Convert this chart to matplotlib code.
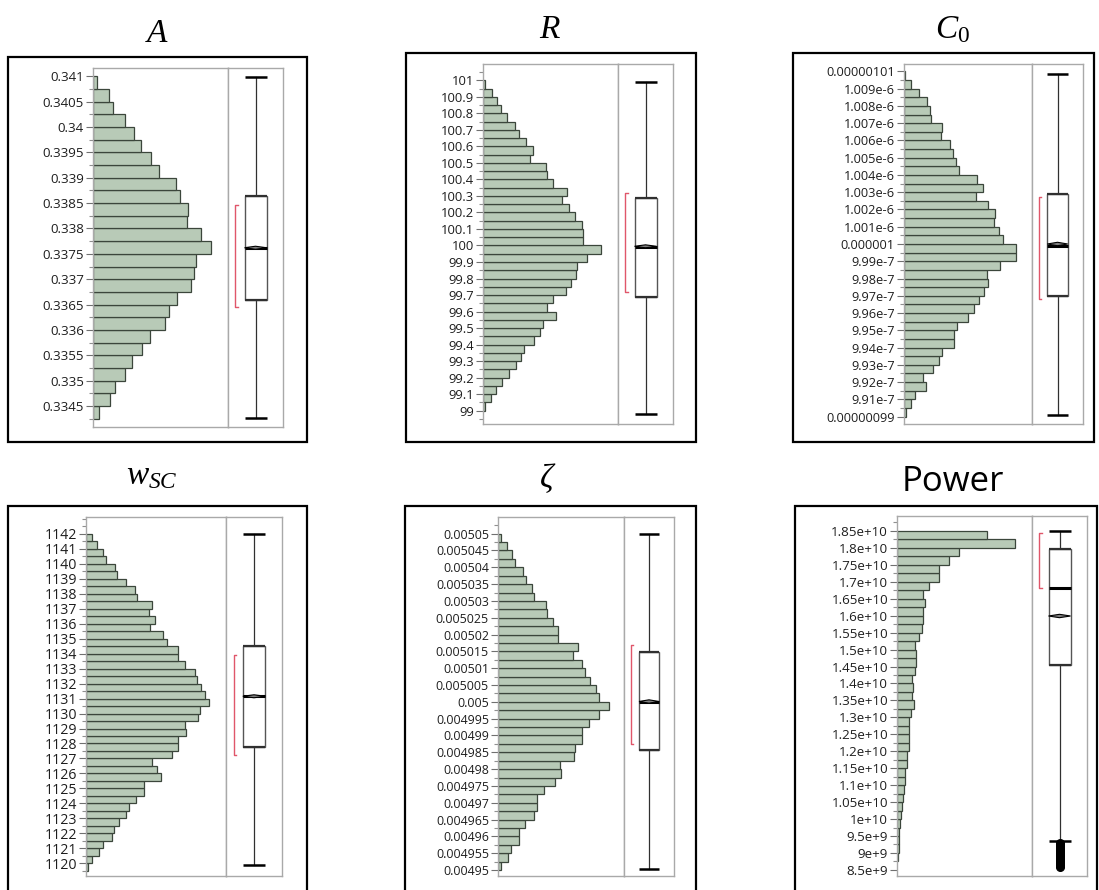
import matplotlib
matplotlib.use("Agg")
import matplotlib.pyplot as plt
import matplotlib.ticker as mticker
from matplotlib.patches import Rectangle, Polygon
import numpy as np

plt.rcParams['font.family'] = ['Open Sans', 'DejaVu Sans']
plt.rcParams['mathtext.fontset'] = 'custom'
plt.rcParams['mathtext.rm'] = 'Liberation Serif'
plt.rcParams['mathtext.it'] = 'Liberation Serif:italic'

W, H = 1099, 890

# ---- A ----
a_start, a_bin = 0.33425, 0.00025
a_counts = [17, 51, 65, 98, 119, 147, 172, 219, 230, 255, 297, 304, 311, 358,
            328, 283, 287, 262, 252, 200, 175, 144, 123, 98, 59, 48, 12]
a_ticks = ['0.3345', '0.335', '0.3355', '0.336', '0.3365', '0.337', '0.3375',
           '0.338', '0.3385', '0.339', '0.3395', '0.34', '0.3405', '0.341']
a_box = [0.33426, 0.33659, 0.33761, 0.33863, 0.34098]   # lo, q1, median, q3, hi
a_mean = 0.33762
a_shortest = [0.33645, 0.33847]

# ---- R ----
r_start, r_bin = 99.0, 0.05
r_counts = [7, 24, 38, 56, 77, 99, 113, 123, 153, 170, 180, 220, 192, 209, 249,
            263, 280, 283, 312, 355, 301, 301, 297, 277, 259, 237, 252, 209, 191,
            188, 141, 149, 128, 108, 96, 73, 53, 41, 27, 7]
r_ticks = ['99', '99.1', '99.2', '99.3', '99.4', '99.5', '99.6', '99.7', '99.8',
           '99.9', '100', '100.1', '100.2', '100.3', '100.4', '100.5', '100.6',
           '100.7', '100.8', '100.9', '101']
r_box = [98.98, 99.69, 99.99, 100.29, 100.99]
r_mean = 99.995
r_shortest = [99.718, 100.318]

# ---- C0 ----
c_start, c_bin = 0.99e-6, 0.5e-9
c_counts = [6, 21, 34, 66, 58, 85, 103, 112, 148, 148, 157, 191, 207, 224, 237,
            251, 248, 287, 334, 334, 294, 284, 267, 270, 251, 214, 234, 218, 164,
            156, 145, 136, 109, 112, 80, 76, 67, 46, 22, 4]
c_ticks = ['0.00000099', '9.91e-7', '9.92e-7', '9.93e-7', '9.94e-7', '9.95e-7',
           '9.96e-7', '9.97e-7', '9.98e-7', '9.99e-7', '0.000001', '1.001e-6',
           '1.002e-6', '1.003e-6', '1.004e-6', '1.005e-6', '1.006e-6', '1.007e-6',
           '1.008e-6', '1.009e-6', '0.00000101']
c_box = [0.99010e-6, 0.99701e-6, 0.99986e-6, 1.00291e-6, 1.00986e-6]
c_mean = 1.00000e-6
c_shortest = [0.99682e-6, 1.00271e-6]

# ---- w_SC ----
w_start, w_bin = 1119.5, 0.5
w_counts = [5, 18, 40, 50, 77, 84, 98, 121, 128, 150, 173, 173, 225, 213, 199,
            258, 275, 275, 301, 296, 335, 343, 368, 356, 346, 332, 328, 297, 275,
            275, 243, 230, 192, 206, 188, 199, 154, 148, 120, 92, 88, 61, 50, 33, 18]
w_ticks = [str(v) for v in range(1120, 1143)]
w_box = [1119.9, 1127.78, 1131.18, 1134.53, 1142.0]
w_mean = 1131.15
w_shortest = [1127.22, 1133.93]

# ---- zeta ----
z_start, z_bin = 0.00495, 2.5e-6
z_counts = [8, 30, 38, 62, 62, 80, 108, 118, 118, 139, 172, 188, 185, 229, 230,
            253, 253, 273, 301, 331, 301, 294, 275, 261, 253, 225, 241, 181, 181,
            165, 148, 143, 108, 103, 84, 74, 51, 41, 26, 8]
z_ticks = ['0.00495', '0.004955', '0.00496', '0.004965', '0.00497', '0.004975',
           '0.00498', '0.004985', '0.00499', '0.004995', '0.005', '0.005005',
           '0.00501', '0.005015', '0.00502', '0.005025', '0.00503', '0.005035',
           '0.00504', '0.005045', '0.00505']
z_box = [0.0049503, 0.0049858, 0.0050000, 0.0050149, 0.00505]
z_mean = 0.0050001
z_shortest = [0.0049874, 0.0050168]

# ---- Power ----
p_start, p_bin = 8.75e9, 0.25e9
p_counts = [4, 5, 6, 7, 9, 12, 15, 18, 20, 23, 24, 29, 30, 35, 37, 37, 37, 41,
            51, 46, 47, 46, 53, 58, 58, 54, 65, 75, 78, 78, 83, 79, 97, 126, 128,
            158, 187, 357, 272]
p_ticks = ['8.5e+9', '9e+9', '9.5e+9', '1e+10', '1.05e+10', '1.1e+10', '1.15e+10',
           '1.2e+10', '1.25e+10', '1.3e+10', '1.35e+10', '1.4e+10', '1.45e+10',
           '1.5e+10', '1.55e+10', '1.6e+10', '1.65e+10', '1.7e+10', '1.75e+10',
           '1.8e+10', '1.85e+10']
p_box = [9.34e9, 14.53e9, 16.825e9, 17.958e9, 18.5e9]
p_mean = 15.99e9
p_shortest = [16.83e9, 18.45e9]
p_outliers = [9.30e9, 9.25e9, 9.20e9, 9.15e9, 9.10e9, 9.05e9, 9.00e9, 8.95e9,
              8.90e9, 8.85e9, 8.80e9, 8.75e9, 8.70e9, 8.65e9, 8.60e9]

BAR_FILL = '#b8cab7'
BAR_EDGE = '#3b463b'
FRAME_GRAY = '#a9a9a9'
SHORT_RED = '#e0566a'
LABEL_COLOR = '#1e1e1e'


def fx(x):
    return x / W


def fy(y):
    return 1 - y / H


def panel(fig, frame, inner, title, title_xy, title_kw, label_size, start, binw,
          counts, ticks, ylim, box, mean, mean_ci, shortest, outliers=None):
    ol, ot, orr, ob = frame
    il, it, div, ir, ib = inner
    fig.patches.append(Rectangle((fx(ol), fy(ob)), (orr - ol) / W, (ob - ot) / H,
                                 transform=fig.transFigure, fill=False,
                                 edgecolor='black', linewidth=1.6))
    fig.text(fx(title_xy[0]), fy(title_xy[1]), title, ha='center', va='center',
             **title_kw)

    ax = fig.add_axes([fx(il), fy(ib), (div - il) / W, (ib - it) / H])
    bx = fig.add_axes([fx(div), fy(ib), (ir - div) / W, (ib - it) / H], sharey=ax)

    # histogram, drawn sideways from the left edge
    edges = start + binw * np.arange(len(counts))
    ax.barh(edges, counts, height=binw, align='edge', color=BAR_FILL,
            edgecolor=BAR_EDGE, linewidth=0.9)
    ax.set_xlim(0, max(counts) * 1.14)
    ax.set_ylim(*ylim)
    ax.yaxis.set_major_locator(mticker.FixedLocator([float(t) for t in ticks]))
    ax.yaxis.set_major_formatter(mticker.FixedFormatter(ticks))
    ax.yaxis.set_minor_locator(mticker.MultipleLocator(binw))
    ax.tick_params(axis='y', which='major', length=5, width=0.8, color='#707070',
                   labelsize=label_size, labelcolor=LABEL_COLOR, pad=1.5)
    ax.tick_params(axis='y', which='minor', length=3, width=0.8, color='#909090')
    ax.set_xticks([])

    # outlier box plot with mean diamond and shortest-half bracket
    c, bw = 0.5, 0.4
    lo, q1, med, q3, hi = box
    bx.plot([c, c], [q3, hi], color='#303030', lw=0.9)
    bx.plot([c, c], [lo, q1], color='#303030', lw=0.9)
    for v in (lo, hi):
        bx.plot([c - bw / 2, c + bw / 2], [v, v], color='black', lw=1.8,
                solid_capstyle='butt')
    bx.add_patch(Rectangle((c - bw / 2, q1), bw, q3 - q1, facecolor='white',
                           edgecolor='#555555', linewidth=1.0, zorder=2))
    for v in (q1, q3):
        bx.plot([c - bw / 2, c + bw / 2], [v, v], color='#303030', lw=1.6,
                zorder=3, solid_capstyle='butt')
    bx.plot([c - bw / 2, c + bw / 2], [med, med], color='black', lw=2.2,
            zorder=4, solid_capstyle='butt')
    bx.add_patch(Polygon([(c - bw / 2, mean), (c, mean + mean_ci),
                          (c + bw / 2, mean), (c, mean - mean_ci)],
                         closed=True, facecolor='#808080', edgecolor='black',
                         linewidth=0.8, zorder=5))
    sx = 0.135
    bx.plot([sx + 0.05, sx, sx, sx + 0.05],
            [shortest[1], shortest[1], shortest[0], shortest[0]],
            color=SHORT_RED, lw=1.0)
    if outliers is not None:
        bx.plot([c] * len(outliers), outliers, 'o', ms=5.5, color='black',
                zorder=6)
    bx.set_xlim(0, 1)
    bx.set_xticks([])
    bx.tick_params(axis='y', which='both', left=False, labelleft=False)

    for a in (ax, bx):
        for s in a.spines.values():
            s.set_color(FRAME_GRAY)
            s.set_linewidth(1.0)


fig = plt.figure(figsize=(W / 100, H / 100), dpi=100)
serif = dict(fontsize=24)

panel(fig, (8, 57, 307, 442), (93, 68, 228, 283, 427), r'$A$', (157, 33), serif,
      9.6, a_start, a_bin, a_counts, a_ticks, (0.33409, 0.34116), a_box, a_mean,
      0.00003, a_shortest)
panel(fig, (406, 53, 696, 442), (483, 64, 618, 673, 424), r'$R$', (550, 30), serif,
      9.4, r_start, r_bin, r_counts, r_ticks, (98.919, 101.099), r_box, r_mean,
      0.009, r_shortest)
panel(fig, (793, 53, 1094, 442), (904, 64, 1032, 1083, 424), r'$C_{\mathrm{0}}$',
      (953, 30), serif, 9.2, c_start, c_bin, c_counts, c_ticks,
      (0.989575e-6, 1.010425e-6), c_box, c_mean, 0.1e-9, c_shortest)
panel(fig, (8, 506, 307, 893), (86, 517, 226, 282, 876), r'$w_{SC}$', (152, 476),
      serif, 10.2, w_start, w_bin, w_counts, w_ticks, (1119.16, 1143.11), w_box,
      w_mean, 0.1, w_shortest)
panel(fig, (405, 506, 696, 893), (498, 517, 624, 674, 876), r'$\zeta$', (548, 478),
      serif, 8.9, z_start, z_bin, z_counts, z_ticks, (0.00494822, 0.00505495),
      z_box, z_mean, 0.5e-6, z_shortest)
panel(fig, (795, 506, 1097, 893), (897, 516, 1032, 1087, 876), 'Power', (953, 482),
      dict(fontsize=25, family='Open Sans'), 9.6, p_start, p_bin, p_counts,
      p_ticks, (8.32e9, 18.94e9), p_box, p_mean, 0.05e9, p_shortest, p_outliers)

fig.savefig('out.png', dpi=100)
